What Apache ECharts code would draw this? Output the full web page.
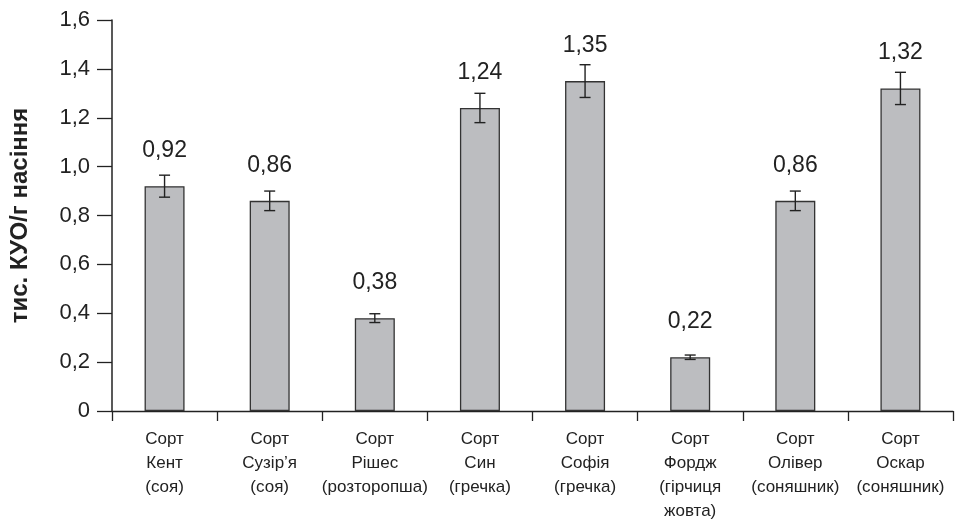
<!DOCTYPE html>
<html><head><meta charset="utf-8">
<script src="https://cdn.jsdelivr.net/npm/echarts@6/dist/echarts.min.js"></script>
<style>html,body{margin:0;padding:0;background:#fff}#c{width:955px;height:523px}</style>
</head><body><div id="c"></div>
<script>
const categories = ['Сорт\nКент\n(соя)','Сорт\nСузір’я\n(соя)','Сорт\nРішес\n(розторопша)','Сорт\nСин\n(гречка)','Сорт\nСофія\n(гречка)','Сорт\nФордж\n(гірчиця\nжовта)','Сорт\nОлівер\n(соняшник)','Сорт\nОскар\n(соняшник)'];
const values = [0.92, 0.86, 0.38, 1.24, 1.35, 0.22, 0.86, 1.32];
const errors = [0.045, 0.04, 0.018, 0.06, 0.067, 0.009, 0.04, 0.066];
const yTicks = {min: 0, max: 1.6, interval: 0.2};
const yTitle = 'тис. КУО/г насіння';

const fmt = v => v === 0 ? '0' : v.toFixed(1).replace('.', ',');
const chart = echarts.init(document.getElementById('c'));
chart.setOption({
  animation: false,
  grid: {left: 112, right: 2, top: 20, bottom: 108},
  xAxis: {
    type: 'category', data: categories,
    axisLine: {lineStyle: {color: '#222', width: 1.3}},
    axisTick: {show: true, length: 10, alignWithLabel: false, lineStyle: {color: '#222', width: 1.3}},
    axisLabel: {interval: 0, margin: 16, color: '#222', fontSize: 17, lineHeight: 24, fontFamily: '"Liberation Sans Narrow", "Liberation Sans", Arial, sans-serif'}
  },
  yAxis: {
    type: 'value', min: yTicks.min, max: yTicks.max, interval: yTicks.interval,
    name: yTitle, nameLocation: 'middle', nameGap: 80,
    nameTextStyle: {fontSize: 24, fontWeight: 'bold', color: '#222', fontFamily: '"Liberation Sans", Arial, sans-serif'},
    axisLine: {show: true, lineStyle: {color: '#222', width: 1.5}},
    axisTick: {show: true, length: 15, lineStyle: {color: '#222', width: 1.3}},
    splitLine: {show: false},
    axisLabel: {formatter: fmt, margin: 22, color: '#222', fontSize: 22, fontFamily: '"Liberation Sans", Arial, sans-serif'}
  },
  series: [{
    type: 'bar', data: values, barWidth: 40,
    itemStyle: {color: '#bcbdc0', borderColor: '#333', borderWidth: 1.3},
    label: {show: true, position: 'top', distance: 24, color: '#222', fontSize: 23,
      fontFamily: '"Liberation Sans", Arial, sans-serif',
      formatter: p => p.value.toFixed(2).replace('.', ',')}
  }, {
    type: 'custom',
    data: values.map((v, i) => [i, v - errors[i], v + errors[i]]),
    renderItem: (params, api) => {
      const lo = api.coord([api.value(0), api.value(1)]);
      const hi = api.coord([api.value(0), api.value(2)]);
      const w = 5.5;
      const st = {stroke: '#222', lineWidth: 1.4};
      return {type: 'group', children: [
        {type: 'line', shape: {x1: hi[0], y1: hi[1], x2: lo[0], y2: lo[1]}, style: st},
        {type: 'line', shape: {x1: hi[0]-w, y1: hi[1], x2: hi[0]+w, y2: hi[1]}, style: st},
        {type: 'line', shape: {x1: lo[0]-w, y1: lo[1], x2: lo[0]+w, y2: lo[1]}, style: st}
      ]};
    },
    z: 10
  }]
});
</script></body></html>
